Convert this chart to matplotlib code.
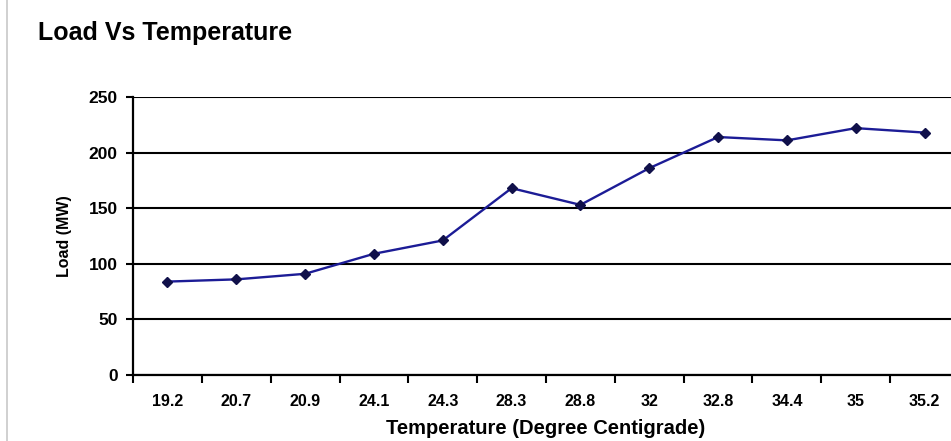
import matplotlib
matplotlib.use("Agg")
import matplotlib.pyplot as plt
import numpy as np
from matplotlib.lines import Line2D

# temperature categories (degree centigrade) and load (MW)
temps = ["19.2", "20.7", "20.9", "24.1", "24.3", "28.3", "28.8", "32", "32.8", "34.4", "35", "35.2"]
load = [84, 86, 91, 109, 121, 168, 153, 186, 214, 211, 222, 218]
yticks = [0, 50, 100, 150, 200, 250]

plt.rcParams['font.family'] = ['Liberation Sans', 'DejaVu Sans']

fig = plt.figure(figsize=(9.51, 4.41), dpi=100)
ax = fig.add_axes([133 / 951, 66 / 441, 826 / 951, 278 / 441])

x = np.arange(len(temps))
ax.plot(x, load, color='#1c1c96', lw=1.7, marker='D', markersize=5.5,
        markerfacecolor='#10104a', markeredgecolor='#10104a', zorder=3)

ax.set_xlim(-0.5, len(temps) - 0.5)
ax.set_ylim(0, 250)
ax.set_yticks(yticks)
ax.set_yticklabels([str(v) for v in yticks], fontsize=12.5, fontweight='bold')
ax.yaxis.grid(True, color='black', lw=1.5)
ax.set_axisbelow(True)

# tick marks sit between categories, labels in the middle
ax.set_xticks(np.arange(-0.5, len(temps), 1))
ax.set_xticklabels([])
ax.set_xticks(x, minor=True)
ax.set_xticklabels(temps, minor=True, fontsize=11.5, fontweight='bold')
ax.tick_params(axis='x', which='major', direction='out', length=6, width=1.5, color='black')
ax.tick_params(axis='x', which='minor', length=0, pad=14)
ax.tick_params(axis='y', direction='out', length=5, width=1.5, pad=6)

for s in ['top', 'right']:
    ax.spines[s].set_visible(False)
for s in ['left', 'bottom']:
    ax.spines[s].set_linewidth(1.6)

ax.set_xlabel("Temperature (Degree Centigrade)", fontsize=14.5, fontweight='bold', labelpad=7)
ax.set_ylabel("Load (MW)", fontsize=11.5, fontweight='bold', labelpad=12)

fig.text(38 / 951, 1 - 33 / 441, "Load Vs Temperature", fontsize=18, fontweight='bold',
         va='center', ha='left')

# light chart-area border on the left
fig.add_artist(Line2D([7 / 951, 7 / 951], [0, 1], color='#c8c8c8', lw=1.2, transform=fig.transFigure))

fig.savefig("out.png", dpi=100)
